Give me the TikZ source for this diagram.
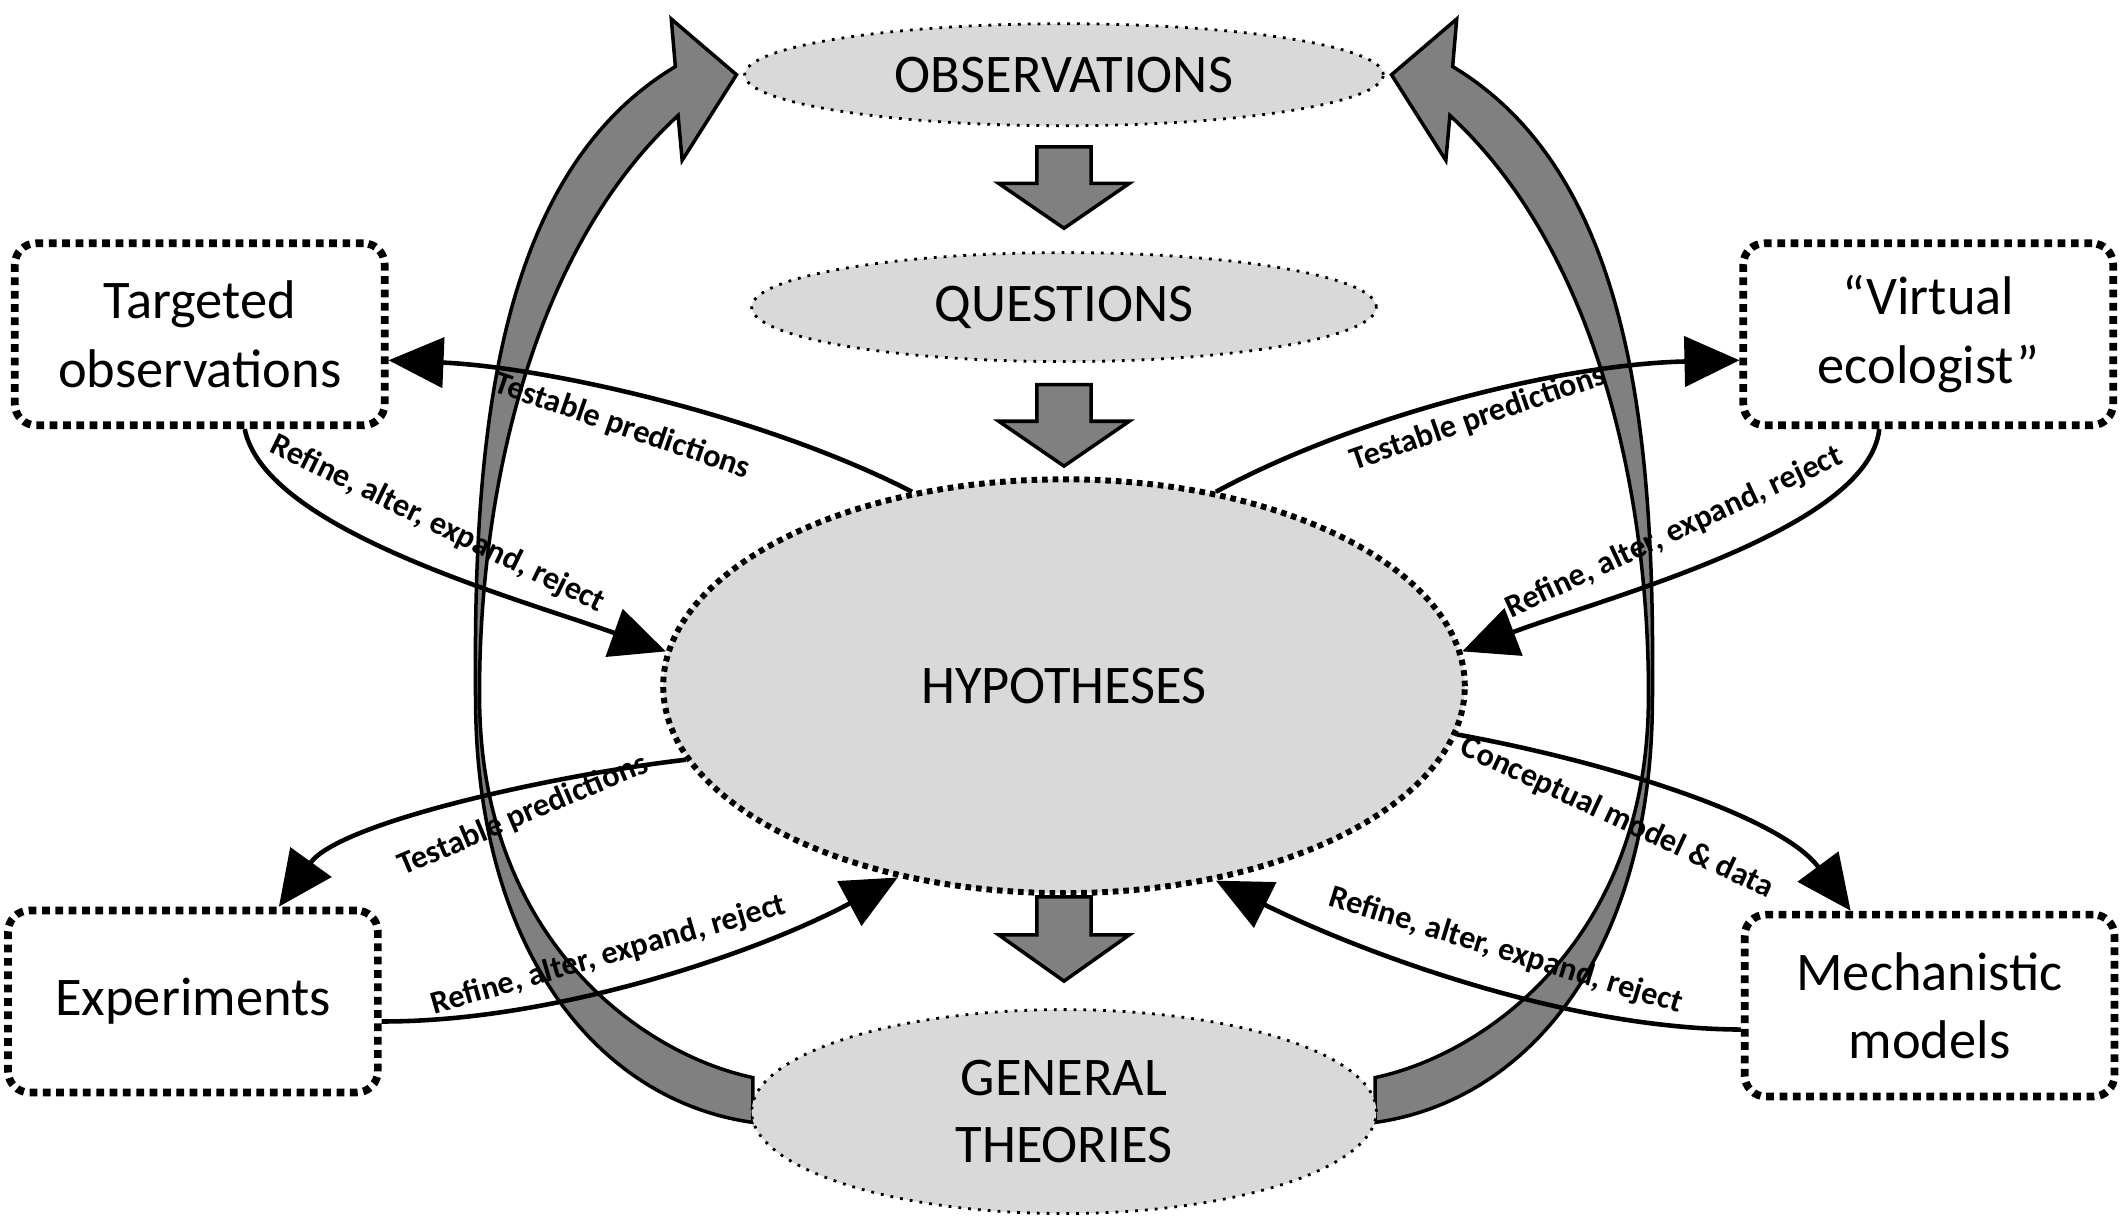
\documentclass[tikz,border=0pt]{standalone}
\usepackage{fontspec}
\setmainfont{Carlito}
\usetikzlibrary{arrows.meta}
\usetikzlibrary{shapes.geometric}
\tikzstyle{stage} = [ellipse, draw=black, fill=gray!30, line width=0.8pt, dotted, inner sep=0pt, font=\fontsize{15.5}{19}\selectfont]
\tikzstyle{core} = [ellipse, draw=black, fill=gray!30, line width=1.7pt, dash pattern=on 1.6pt off 1.4pt, inner sep=0pt, minimum width=8.02cm, minimum height=4.14cm, font=\fontsize{15.5}{19}\selectfont]
\tikzstyle{method} = [rectangle, rounded corners=6pt, draw=black, line width=2.2pt, dash pattern=on 2.2pt off 1.6pt, minimum width=3.7cm, minimum height=1.82cm, align=center, font=\fontsize{15.5}{19.5}\selectfont]
\tikzstyle{arrow} = [line width=1.3pt, -{Triangle[length=0.55cm,width=0.5cm]}]
\tikzstyle{lbl} = [font=\bfseries\fontsize{9.2}{11}\selectfont, inner sep=0pt]
\tikzstyle{bigarrow} = [fill=gray, draw=black, line width=1pt]
\newcommand{\blockdown}[4]{\filldraw[bigarrow] (#1-20,#2) -- (#1+20,#2) -- (#1+20,#3) -- (#1+48,#3) -- (#1,#4) -- (#1-48,#3) -- (#1-20,#3) -- cycle;}
\newcommand{\bigcurve}{\filldraw[bigarrow] (554,793) .. controls (470,775) and (356,690) .. (353,520) .. controls (351,380) and (385,190) .. (499,85) -- (502,118) -- (542,55) -- (494,14) -- (497,49) .. controls (362,130) and (348,330) .. (350,520) .. controls (352,700) and (440,810) .. (554,826) -- cycle;}

\begin{document}
\begin{tikzpicture}[x=0.013589cm, y=-0.013589cm]
    \useasboundingbox (0,0) rectangle (1566,901.5);
    % big curved arrows
    \bigcurve
    \begin{scope}[shift={(1566,0)}, xscale=-1]
        \bigcurve
    \end{scope}
    \blockdown{783}{108}{135}{168}
    \blockdown{783}{283}{310}{343}
    \blockdown{783}{660}{688}{722}

    \node (obs) [stage, minimum width=6.39cm, minimum height=1.02cm] at (783,55) {OBSERVATIONS};
    \node (ques) [stage, minimum width=6.25cm, minimum height=1.09cm] at (783,226) {QUESTIONS};
    \node (hyp) [core] at (783,505) {HYPOTHESES};
    \node (gen) [stage, minimum width=6.25cm, minimum height=2.04cm, align=center] at (783,818) {GENERAL\\THEORIES};

    \node (targ) [method] at (147,246) {Targeted\\observations};
    \node (virt) [method] at (1419,246) {``Virtual\\ecologist''};
    \node (exp) [method] at (142,737) {Experiments};
    \node (mech) [method] at (1420,740) {Mechanistic\\models};

    \draw [arrow] (hyp.128) .. controls (560,305) and (400,270) .. ([yshift=-0.26cm]targ.east);
    \draw [arrow] ([xshift=0.45cm]targ.south) .. controls (195,390) and (380,440) .. (hyp.175);
    \draw [arrow] (hyp.52) .. controls (1000,305) and (1150,268) .. ([yshift=-0.26cm]virt.west);
    \draw [arrow] ([xshift=-0.49cm]virt.south) .. controls (1375,390) and (1180,440) .. (hyp.5);
    \draw [arrow] (hyp.191) .. controls (410,570) and (250,605) .. ([xshift=0.86cm]exp.north);
    \draw [arrow] ([yshift=-0.2cm]exp.east) .. controls (410,752) and (560,700) .. (hyp.229);
    \draw [arrow] (hyp.353) .. controls (1180,560) and (1310,600) .. ([xshift=-0.79cm]mech.north);
    \draw [arrow] ([yshift=-0.24cm]mech.west) .. controls (1150,757) and (1000,700) .. (hyp.308);

    \node (l1) [lbl, rotate=-19] at (458,314) {Testable predictions};
    \node (l2) [lbl, rotate=-26] at (322,386) {Refine, alter, expand, reject};
    \node (l3) [lbl, rotate=19] at (1088,308) {Testable predictions};
    \node (l4) [lbl, rotate=25] at (1232,392) {Refine, alter, expand, reject};
    \node (l5) [lbl, rotate=23] at (385,600) {Testable predictions};
    \node (l6) [lbl, rotate=16] at (448,703) {Refine, alter, expand, reject};
    \node (l7) [lbl, rotate=-25] at (1190,602) {Conceptual model \& data};
    \node (l8) [lbl, rotate=-17] at (1108,700) {Refine, alter, expand, reject};
\end{tikzpicture}
\end{document}
